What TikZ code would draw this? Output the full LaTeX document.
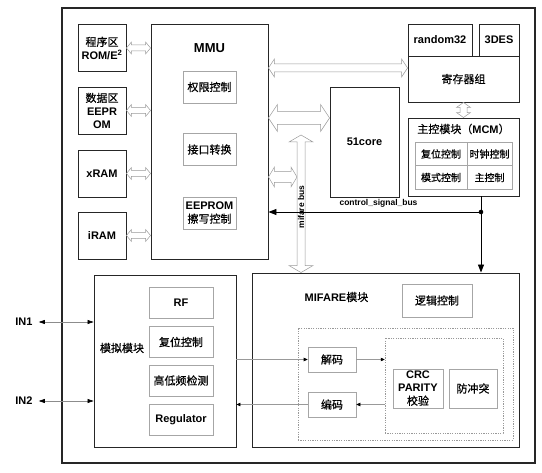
\documentclass[tikz,border=0pt]{standalone}
\usepackage{fontspec}
\setmainfont{Liberation Sans}
\newfontfamily\zhfont{Noto Sans CJK SC}[FakeBold=0.6]
\newcommand\zh[1]{{\zhfont\mdseries #1}}
\usetikzlibrary{calc,arrows.meta}
\newcommand\hbus[6]{%
\draw[bus] let \p1=(#1), \p2=(#2), \p3=(#3) in
 (\x1,\y3) -- (\x1+#6pt,\y3+#5pt) -- (\x1+#6pt,\y3+#4pt) -- (\x2-#6pt,\y3+#4pt) -- (\x2-#6pt,\y3+#5pt)
 -- (\x2,\y3) -- (\x2-#6pt,\y3-#5pt) -- (\x2-#6pt,\y3-#4pt) -- (\x1+#6pt,\y3-#4pt) -- (\x1+#6pt,\y3-#5pt) -- cycle;}
\newcommand\vbus[6]{%
\draw[bus] let \p1=(#1), \p2=(#2), \p3=(#3) in
 (\x3,\y1) -- (\x3+#5pt,\y1-#6pt) -- (\x3+#4pt,\y1-#6pt) -- (\x3+#4pt,\y2+#6pt) -- (\x3+#5pt,\y2+#6pt)
 -- (\x3,\y2) -- (\x3-#5pt,\y2+#6pt) -- (\x3-#4pt,\y2+#6pt) -- (\x3-#4pt,\y1-#6pt) -- (\x3-#5pt,\y1-#6pt) -- cycle;}
\begin{document}
\begin{tikzpicture}[x=1pt,y=-1pt,
every node/.style={font=\fontsize{11}{13}\selectfont\bfseries,align=center,inner sep=1pt},
blk/.style={draw=black!85,line width=0.9pt,inner sep=0pt},
sub/.style={draw=black!35,line width=0.6pt,inner sep=0pt},
dots/.style={draw=black!40,line width=0.5pt,dash pattern=on 1.2pt off 1.2pt},
bus/.style={draw=black!40,fill=white,line width=0.5pt},
sig/.style={draw=black!40,line width=0.6pt,-{Triangle[black,length=4pt,width=3.5pt]}},
io/.style={draw=black!45,line width=0.6pt,{Triangle[black,length=6pt,width=4pt]}-{Triangle[black,length=6pt,width=4pt]}},
ctl/.style={line width=0.9pt,-{Triangle[length=8pt,width=6pt]}}]
\useasboundingbox (0,0) rectangle (542,473);
\node[blk,line width=1.1pt,minimum width=473,minimum height=455] (chip) at (298.5,235.5) {};
\foreach \b/\yy/\txt in {prog/48/{\zh{程序区}\\ROM/E\textsuperscript{2}},data/110.5/{\zh{数据区}\\EEPR\\OM},xram/173.5/xRAM,iram/235.5/iRAM}
\node[blk,minimum width=48,minimum height=47] (\b) at (102,\yy) {\txt};
\node[blk,minimum width=117,minimum height=235] (mmu) at (209.5,141.5) {};
\node[font=\fontsize{13}{15}\selectfont\bfseries] (mmut) at (209.5,48) {MMU};
\foreach \b/\yy/\txt in {perm/87/{\zh{权限控制}},intf/149.5/{\zh{接口转换}},eewr/213/{EEPROM\\\zh{擦写控制}}}
\node[sub,minimum width=53,minimum height=32] (\b) at (209.5,\yy) {\txt};
\node[blk,minimum width=64,minimum height=32] (rnd) at (440,40) {random32};
\node[blk,minimum width=40,minimum height=32] (des) at (499,40) {3DES};
\node[blk,minimum width=111,minimum height=46] (reg) at (463.5,79) {\zh{寄存器组}};
\node[blk,minimum width=69,minimum height=110] (core) at (364.5,142) {51core};
\node[blk,minimum width=111,minimum height=78] (mcm) at (463.5,157) {};
\node (mcmt) at (463.5,129) {\zh{主控模块（}MCM\zh{）}};
\foreach \b/\xx/\yy/\w/\txt in {c1/441/154/52/复位控制,c2/489.5/154/45/时钟控制,c3/441/177.5/52/模式控制,c4/489.5/177.5/45/主控制}
\node[sub,minimum width=\w,minimum height=23.5,font=\fontsize{10}{12}\selectfont] (\b) at (\xx,\yy) {\zh{\txt}};
\node[blk,minimum width=142,minimum height=172] (ana) at (165,361) {};
\node (anat) at (122,348) {\zh{模拟模块}};
\foreach \b/\yy/\txt in {rf/303/RF,rst/342/{\zh{复位控制}},det/380.5/{\zh{高低频检测}},regu/420/Regulator}
\node[sub,minimum width=64,minimum height=31] (\b) at (181,\yy) {\txt};
\node[blk,minimum width=267,minimum height=174] (mifare) at (385.5,360) {};
\node (mift) at (336.5,297) {MIFARE\zh{模块}};
\node[sub,minimum width=70,minimum height=33] (logic) at (437,300.5) {\zh{逻辑控制}};
\node[dots,minimum width=215,minimum height=112] (codec) at (405.5,384) {};
\node[dots,minimum width=118,minimum height=95] (chk) at (444,385.5) {};
\node[sub,minimum width=48,minimum height=25] (dec) at (332,359.5) {\zh{解码}};
\node[sub,minimum width=48,minimum height=25] (enc) at (332,404.5) {\zh{编码}};
\node[sub,minimum width=50,minimum height=39] (crc) at (418,388.5) {CRC\\PARITY\\\zh{校验}};
\node[sub,minimum width=48,minimum height=39] (anti) at (473,388.5) {\zh{防冲突}};
\node (in1) at (24,322) {IN1};
\node (in2) at (24,401) {IN2};
\draw[io] ([xshift=5pt]in1.east) -- (ana.west |- in1);
\draw[io] ([xshift=5pt]in2.east) -- (ana.west |- in2);
\draw[sig] (ana.east |- dec) -- (dec.west);
\draw[sig] (dec.east) -- (chk.west |- dec);
\draw[sig] (chk.west |- enc) -- (enc.east);
\draw[sig] (enc.west) -- (ana.east |- enc);
\coordinate (mbtop) at (301,135);
\coordinate (mbl) at (297,177);
\foreach \b in {prog,data,xram,iram} {\hbus{\b.east}{mmu.west}{\b.east}{3}{6}{5}}
\hbus{mmu.east}{reg.west}{0,68}{4}{9}{6}
\hbus{mmu.east}{core.west}{0,118}{6.5}{13.5}{9}
\hbus{mmu.east}{mbl}{0,177}{5.5}{10}{6}
\vbus{mbtop}{mifare.north}{301,0}{4}{12}{7}
\vbus{reg.south}{mcm.north}{reg.south}{3.5}{7}{5}
\coordinate (tap) at (481,212);
\draw[ctl] (tap |- mcm.south) -- (tap |- mifare.north);
\draw[ctl] (tap) -- (tap -| mmu.east);
\fill (tap) circle[radius=2.3];
\node[font=\fontsize{8.5}{10}\selectfont\bfseries] (ctlt) at (378.5,203) {control\_signal\_bus};
\node[font=\fontsize{8.5}{10}\selectfont\bfseries,rotate=90] (mbt) at (301,207) {mifare bus};
\end{tikzpicture}
\end{document}
